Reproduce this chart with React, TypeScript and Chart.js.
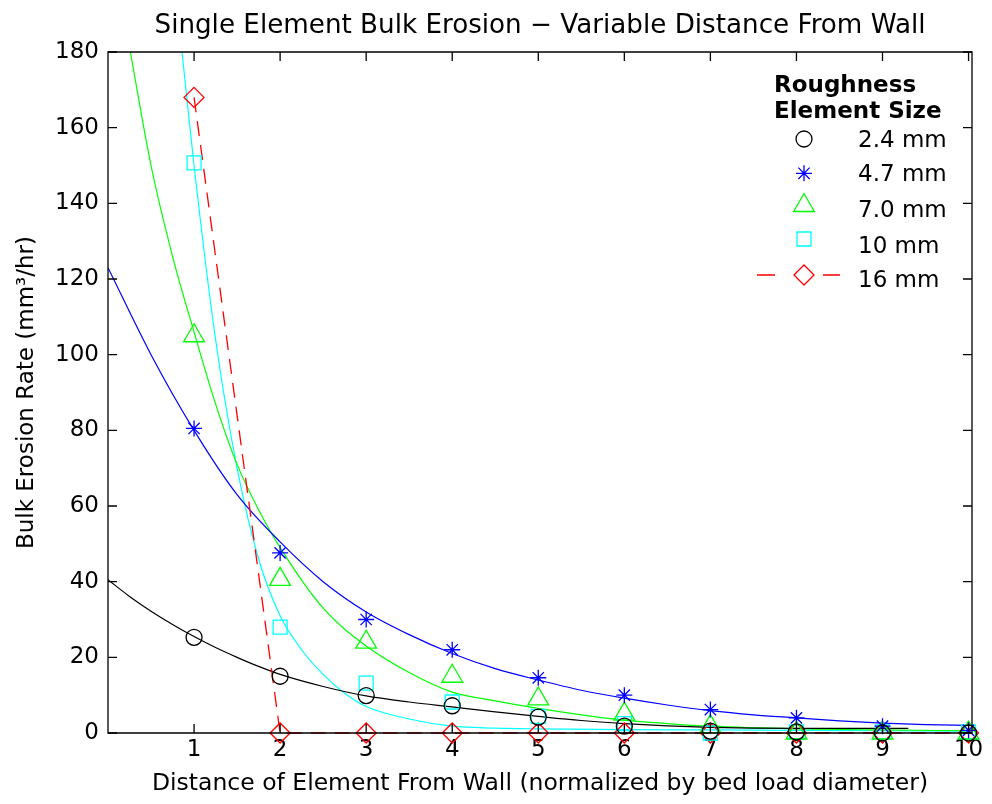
import React, { useEffect, useRef } from 'react';
import { Chart, registerables } from 'chart.js';
import { drawPoint } from 'chart.js/helpers';

Chart.register(...registerables);

const FONT = 'DejaVu Sans';
const TITLE = 'Single Element Bulk Erosion − Variable Distance From Wall';
const X_LABEL = 'Distance of Element From Wall (normalized by bed load diameter)';
const Y_LABEL = 'Bulk Erosion Rate (mm³/hr)';
const LEGEND_TITLE = ['Roughness', 'Element Size'];
const SERIES_NAMES = ['2.4 mm', '4.7 mm', '7.0 mm', '10 mm', '16 mm'];

// measured points
const distance = [1, 2, 3, 4, 5, 6, 7, 8, 9, 10];
const rate24 = [25.3, 15, 9.9, 7.2, 4.2, 1.8, 0.5, 0.3, 0, 0];
const rate47 = [80.5, 47.6, 30, 22, 14.6, 10, 6.2, 4, 1.8, 0.7];
const rate70 = [105, 40.6, 24, 15, 9, 5, 1.7, 0, 0, 0];
const rate10 = [150.7, 28, 13.2, 8.2, 4.4, 2.5, 0, 0.3, 0.3, 0.3];
const rate16 = [168, 0, 0, 0, 0, 0, 0, 0, 0, 0];

// fitted curves
const fit24X = [0, 0.25, 0.5, 0.75, 1, 1.25, 1.5, 1.75, 2, 2.5, 3, 3.5, 4, 4.5, 5, 5.5, 6, 6.5, 7, 7.5, 8, 8.5, 9, 9.3];
const fit24Y = [40.5, 36.1, 32.2, 28.7, 25.5, 22.6, 20.0, 17.6, 15.5, 12.3, 9.8, 8.2, 6.9, 5.6, 4.4, 3.3, 2.5, 1.9, 1.5, 1.3, 1.2, 1.2, 1.2, 1.2];
const fit47X = [0, 0.5, 1, 1.5, 2, 2.5, 3, 3.5, 4, 4.5, 5, 5.5, 6, 6.5, 7, 7.5, 8, 8.5, 9, 9.5, 10];
const fit47Y = [123, 100, 80, 63, 50.5, 40, 32, 26, 21, 17, 14, 11.3, 9.2, 7.4, 5.9, 4.8, 4.0, 3.2, 2.6, 2.2, 2.0];
const fit70X = [0.26, 0.5, 0.75, 1, 1.25, 1.5, 1.75, 2, 2.5, 3, 3.5, 4, 4.5, 5, 5.5, 6, 6.5, 7, 8, 9, 10];
const fit70Y = [180, 150, 126, 106, 87, 71, 59, 49, 33, 23, 16, 10.8, 8.5, 6.5, 4.8, 3.4, 2.5, 1.8, 1.1, 0.8, 0.6];
const fit10X = [0.86, 1, 1.25, 1.5, 1.75, 2, 2.25, 2.5, 2.75, 3, 3.5, 4, 4.5, 5, 6, 7, 8, 9, 10];
const fit10Y = [180, 150, 104, 70, 46, 31, 22, 15.5, 10.5, 7.0, 3.7, 1.8, 1.3, 1.1, 0.9, 0.8, 0.7, 0.6, 0.5];

const xTicks = [1, 2, 3, 4, 5, 6, 7, 8, 9, 10];
const yTicks = [0, 20, 40, 60, 80, 100, 120, 140, 160, 180];

const COLORS = ['#000000', '#0000ff', '#00ff00', '#00ffff', '#ff0000'];
const STYLES = ['circle', 'star', 'triangle', 'rect', 'rectRot'];
const RADII = [8, 8, 12, 9.9, 10];

const pts = (xs: number[], ys: number[]) => xs.map((x, i) => ({ x, y: ys[i] }));

const framePlugin = {
  id: 'frame',
  afterDatasetsDraw(chart: any) {
    const { ctx, chartArea: a, scales } = chart;
    const tl = 9;
    ctx.save();
    ctx.strokeStyle = '#000';
    ctx.lineWidth = 1.3;
    ctx.beginPath();
    ctx.rect(a.left, a.top, a.right - a.left, a.bottom - a.top);
    ctx.stroke();
    ctx.beginPath();
    xTicks.forEach((v) => {
      const px = scales.x.getPixelForValue(v);
      ctx.moveTo(px, a.bottom);
      ctx.lineTo(px, a.bottom - tl);
      ctx.moveTo(px, a.top);
      ctx.lineTo(px, a.top + tl);
    });
    yTicks.forEach((v) => {
      const py = scales.y.getPixelForValue(v);
      ctx.moveTo(a.left, py);
      ctx.lineTo(a.left + tl, py);
      ctx.moveTo(a.right, py);
      ctx.lineTo(a.right - tl, py);
    });
    ctx.stroke();
    ctx.restore();
  },
};

const titlePlugin = {
  id: 'customTitle',
  afterDraw(chart: any) {
    const { ctx, chartArea: a } = chart;
    ctx.save();
    ctx.fillStyle = '#000';
    ctx.font = `26.2px "${FONT}"`;
    ctx.textAlign = 'center';
    ctx.textBaseline = 'alphabetic';
    ctx.fillText(TITLE, (a.left + a.right) / 2, 33);
    ctx.restore();
  },
};

const legendPlugin = {
  id: 'customLegend',
  afterDraw(chart: any) {
    const { ctx } = chart;
    ctx.save();
    ctx.fillStyle = '#000';
    ctx.textAlign = 'left';
    ctx.textBaseline = 'alphabetic';
    ctx.font = `bold 23px "${FONT}"`;
    ctx.fillText(LEGEND_TITLE[0], 774, 92);
    ctx.fillText(LEGEND_TITLE[1], 774, 118);
    ctx.font = `23px "${FONT}"`;
    const rowY = [139, 173.3, 205.5, 239, 275];
    const baseY = [147, 181, 216.5, 252.5, 286.5];
    const mx = 804;
    SERIES_NAMES.forEach((name, i) => {
      ctx.fillStyle = '#000';
      ctx.fillText(name, 858, baseY[i]);
      ctx.strokeStyle = COLORS[i];
      ctx.fillStyle = 'rgba(0,0,0,0)';
      ctx.lineWidth = 1.3;
      if (i === 4) {
        ctx.beginPath();
        ctx.moveTo(757, rowY[i]);
        ctx.lineTo(775, rowY[i]);
        ctx.moveTo(823, rowY[i]);
        ctx.lineTo(840, rowY[i]);
        ctx.stroke();
      }
      drawPoint(ctx, { pointStyle: STYLES[i], radius: RADII[i], rotation: 0, borderWidth: 1.3 } as any, mx, rowY[i]);
    });
    ctx.restore();
  },
};

export default function App() {
  const ref = useRef<HTMLCanvasElement>(null);
  useEffect(() => {
    document.body.style.margin = '0';
    Chart.defaults.font.family = FONT;
    Chart.defaults.color = '#000';
    const markerSets = [rate24, rate47, rate70, rate10, rate16].map((ys, i) => ({
      label: SERIES_NAMES[i],
      data: pts(distance, ys),
      showLine: i === 4,
      borderColor: COLORS[i],
      borderWidth: 1.3,
      borderDash: i === 4 ? [15, 9] : [],
      backgroundColor: 'rgba(0,0,0,0)',
      pointStyle: STYLES[i],
      pointRadius: RADII[i],
      pointBorderColor: COLORS[i],
      pointBackgroundColor: 'rgba(0,0,0,0)',
      pointBorderWidth: 1.3,
      clip: false as any,
    }));
    const fitSets = [
      [fit24X, fit24Y],
      [fit47X, fit47Y],
      [fit70X, fit70Y],
      [fit10X, fit10Y],
    ].map(([xs, ys], i) => ({
      label: 'fit ' + SERIES_NAMES[i],
      data: pts(xs, ys),
      showLine: true,
      borderColor: COLORS[i],
      borderWidth: 1.2,
      pointRadius: 0,
      cubicInterpolationMode: 'monotone' as const,
      fill: false,
    }));
    const chart = new Chart(ref.current!, {
      type: 'scatter',
      data: { datasets: [...markerSets, ...fitSets] as any },
      options: {
        responsive: false,
        animation: false,
        devicePixelRatio: 1,
        layout: { padding: { left: 0, right: 20, top: 52, bottom: 0 } },
        plugins: {
          legend: { display: false },
          tooltip: { enabled: false },
          title: { display: false },
        },
        scales: {
          x: {
            type: 'linear',
            min: 0,
            max: 10.04,
            grid: { display: false, drawTicks: false },
            border: { display: false },
            afterBuildTicks: (s: any) => {
              s.ticks = xTicks.map((v) => ({ value: v }));
            },
            afterFit: (s: any) => {
              s.height = 71;
            },
            ticks: { font: { size: 23 }, color: '#000', padding: 3, maxRotation: 0, autoSkip: false },
            title: { display: true, text: X_LABEL, font: { size: 23.5 }, color: '#000', padding: { top: 0, bottom: 6 } },
          },
          y: {
            type: 'linear',
            min: 0,
            max: 180,
            grid: { display: false, drawTicks: false },
            border: { display: false },
            afterBuildTicks: (s: any) => {
              s.ticks = yTicks.map((v) => ({ value: v }));
            },
            afterFit: (s: any) => {
              s.width = 108;
            },
            ticks: { font: { size: 23 }, color: '#000', padding: 9 },
            title: { display: true, text: Y_LABEL, font: { size: 23 }, color: '#000', padding: { top: 13, bottom: 0 } },
          },
        },
      },
      plugins: [framePlugin, titlePlugin, legendPlugin],
    });
    return () => chart.destroy();
  }, []);
  return (
    <div style={{ width: 992, height: 804, background: '#fff' }}>
      <canvas ref={ref} width={992} height={804} style={{ display: 'block' }} />
    </div>
  );
}
